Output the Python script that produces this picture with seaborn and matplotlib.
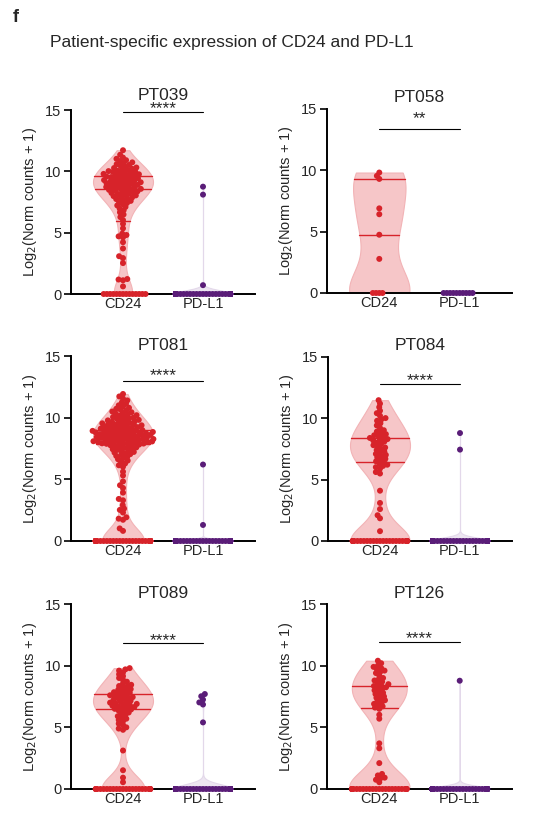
import warnings
import numpy as np
import pandas as pd
import matplotlib
matplotlib.use("Agg")
import matplotlib.pyplot as plt
import seaborn as sns

warnings.filterwarnings("ignore")

# ---------------- data ----------------
GENES = ["CD24", "PD-L1"]
PATIENTS = ["PT039", "PT058", "PT081", "PT084", "PT089", "PT126"]
SIGNIF = ["****", "**", "****", "****", "****", "****"]
BAR_Y = [14.84, 13.37, 13.0, 12.8, 11.8, 11.9]
STAR_Y = [15.16, 14.27, 13.46, 13.14, 12.08, 12.24]
YTICKS = [0, 5, 10, 15]

PT039_CD24 = [11.72, 11.35, 11.12, 11.02, 10.91, 10.84, 10.73, 10.66, 10.58, 10.52,
              10.44, 10.38, 10.31, 10.27, 10.21, 10.16, 10.11, 10.06, 10.02, 9.98,
              9.95, 9.91, 9.87, 9.83, 9.79, 9.76, 9.72, 9.68, 9.64, 9.61, 9.57, 9.53,
              9.50, 9.46, 9.43, 9.39, 9.36, 9.32, 9.29, 9.25, 9.22, 9.18, 9.15, 9.11,
              9.08, 9.04, 9.01, 8.97, 8.94, 8.90, 8.87, 8.83, 8.79, 8.76, 8.72, 8.68,
              8.64, 8.61, 8.57, 8.53, 8.49, 8.45, 8.41, 8.37, 8.33, 8.28, 8.24, 8.19,
              8.14, 8.09, 8.04, 7.98, 7.93, 7.87, 7.81, 7.74, 7.67, 7.59, 7.51, 7.42,
              7.33, 7.22, 7.10, 6.97, 6.83, 6.66, 6.48, 6.27, 6.03, 5.72, 5.35, 4.92,
              4.81, 4.70, 4.62, 4.22, 3.71, 3.08, 2.93, 2.52, 1.22, 1.18, 1.12, 0.62]
PT039_PDL1 = [8.75, 8.10, 0.72]

PT058_CD24 = [9.82, 9.55, 9.30, 6.90, 6.42, 4.75, 2.78]
PT058_PDL1 = []

PT081_CD24 = [5.62, 5.31, 4.83, 4.52, 4.30, 3.92, 3.41, 3.30, 2.91, 2.63, 2.52, 2.31,
              1.92, 1.81, 1.72, 1.02, 0.82,
              6.02, 6.14, 6.28, 6.41, 6.52, 6.63, 6.71, 6.82, 6.90, 6.98, 7.04, 7.11,
              7.17, 7.22, 7.28, 7.33, 7.39, 7.44, 7.49, 7.54, 7.59, 7.63, 7.67, 7.71,
              7.75, 7.79, 7.82, 7.85, 7.88,
              7.90, 7.92, 7.94, 7.96, 7.98, 8.00, 8.03, 8.05, 8.07, 8.09, 8.11, 8.14,
              8.16, 8.18, 8.20, 8.22, 8.25, 8.27, 8.29, 8.31, 8.33, 8.36, 8.38, 8.40,
              8.42, 8.44, 8.47, 8.49, 8.51, 8.53, 8.55, 8.58, 8.60, 8.62, 8.64, 8.66,
              8.69, 8.71, 8.73, 8.75, 8.77, 8.80, 8.82, 8.84, 8.86, 8.88, 8.91, 8.93,
              8.95, 8.97, 8.99,
              9.02, 9.05, 9.08, 9.11, 9.14, 9.17, 9.20, 9.23, 9.26, 9.29, 9.32, 9.35,
              9.38, 9.41, 9.44, 9.47, 9.50, 9.54, 9.58, 9.62, 9.66, 9.70, 9.74, 9.78,
              9.82, 9.86, 9.90, 9.95, 10.00, 10.05, 10.10, 10.15, 10.20, 10.26, 10.32,
              10.38, 10.44, 10.50, 10.57, 10.64, 10.72, 10.80, 10.90, 11.00, 11.12,
              11.25, 11.40, 11.55, 11.72, 11.92]
PT081_PDL1 = [6.20, 1.30]

PT084_CD24 = [5.50, 4.10, 3.10, 2.60, 2.10, 1.85, 0.80,
              5.62, 5.90, 6.02, 6.12, 6.22, 6.32, 6.42,
              6.50, 6.61, 6.70, 6.82, 6.91, 7.02, 7.10, 7.21, 7.30, 7.41, 7.50, 7.62,
              7.70, 7.81, 7.90, 8.02, 8.10, 8.20, 8.26, 8.31,
              8.40, 8.48, 8.55, 8.62, 8.71, 8.80, 8.92, 9.03, 9.21, 9.42, 9.60, 9.80,
              9.91, 10.02, 10.21, 10.42, 10.62, 10.91, 11.20, 11.48]
PT084_PDL1 = [8.80, 7.45]

PT089_CD24 = [3.12, 1.52, 0.92, 0.55,
              4.80, 4.90, 5.00, 5.20, 5.30, 5.50, 5.60, 5.70, 5.80, 5.90, 6.00, 6.10,
              6.20, 6.30, 6.35, 6.45,
              6.50, 6.55, 6.60, 6.65, 6.70, 6.75, 6.80, 6.85, 6.90, 6.95, 7.00, 7.05,
              7.10, 7.15, 7.20, 7.30, 7.35, 7.40, 7.45, 7.50, 7.55, 7.60,
              7.70, 7.75, 7.80, 7.85, 7.90, 8.00, 8.05, 8.10, 8.20, 8.30, 8.35, 8.45,
              8.55, 8.70, 8.85, 9.00, 9.15, 9.30, 9.45, 9.60, 9.70, 9.80]
PT089_PDL1 = [7.70, 7.52, 7.25, 7.02, 6.85, 5.40]

PT126_CD24 = [3.70, 3.30, 2.10, 1.22, 1.10, 0.92, 0.85, 0.75, 0.55,
              5.70, 6.02, 6.50,
              6.60, 6.70, 6.80, 6.90, 7.00, 7.10, 7.20, 7.30, 7.40, 7.50, 7.60, 7.70,
              7.80, 7.90, 8.00, 8.10, 8.20, 8.25,
              8.35, 8.40, 8.50, 8.60, 8.70, 8.80, 8.90, 9.00, 9.20, 9.40, 9.50, 9.60,
              9.70, 9.80, 9.90, 10.00, 10.20, 10.40]
PT126_PDL1 = [8.78]

# number of cells with zero counts per patient / gene
ZEROS_CD24 = [14, 4, 55, 26, 24, 24]
ZEROS_PDL1 = [120, 10, 150, 130, 130, 100]

NONZERO_CD24 = [PT039_CD24, PT058_CD24, PT081_CD24, PT084_CD24, PT089_CD24, PT126_CD24]
NONZERO_PDL1 = [PT039_PDL1, PT058_PDL1, PT081_PDL1, PT084_PDL1, PT089_PDL1, PT126_PDL1]

rows = []
for i, p in enumerate(PATIENTS):
    for v in NONZERO_CD24[i] + [0.0] * ZEROS_CD24[i]:
        rows.append((p, "CD24", v))
    for v in NONZERO_PDL1[i] + [0.0] * ZEROS_PDL1[i]:
        rows.append((p, "PD-L1", v))
df = pd.DataFrame(rows, columns=["patient", "gene", "value"])

# ---------------- style ----------------
sns.set_style("white")
plt.rcParams["font.family"] = ["Liberation Sans", "DejaVu Sans"]

POINT = {"CD24": "#d7232a", "PD-L1": "#5a1d78"}
FILL = {"CD24": "#f6c6c8", "PD-L1": "#ede6f1"}
EDGE = {"CD24": "#f2b3b6", "PD-L1": "#e3d8ea"}
TITLE_PAD = [7.5, 5.0, 4.5, 5.0, 4.5, 4.5]

W, H = 541, 818
fig = plt.figure(figsize=(W / 100, H / 100), dpi=100)

# axes boxes in pixels: left, top, right, bottom
BOXES = [(71, 110, 255, 294), (327, 109, 512, 293),
         (71, 356, 255, 541), (328, 357, 512, 541),
         (71, 604, 255, 789), (327, 604, 512, 789)]


def half_width(coll, center, yval):
    v = coll.get_paths()[0].vertices
    right = v[v[:, 0] >= center]
    order = np.argsort(right[:, 1])
    return np.interp(yval, right[order, 1], right[order, 0]) - center


swarm_colls = []
for i, p in enumerate(PATIENTS):
    l, t, r, b = BOXES[i]
    ax = fig.add_axes([l / W, 1 - b / H, (r - l) / W, (b - t) / H])
    d = df[df.patient == p]
    for gi, g in enumerate(GENES):
        sub = d[d.gene == g]
        if sub.value.nunique() < 2:
            continue
        n0 = len(ax.collections)
        sns.violinplot(data=sub, x="gene", y="value", order=GENES, color=FILL[g],
                       inner=None, cut=0, density_norm="width",
                       width=0.75, bw_adjust=0.7, linewidth=0.8, saturation=1, ax=ax)
        vc = ax.collections[n0]
        vc.set_edgecolor(EDGE[g])
        vc.set_zorder(1)
        q = np.percentile(sub.value.values, [25, 50, 75], method="weibull")
        for qv in q:
            if qv <= 0:
                continue
            hw = half_width(vc, gi, qv)
            ax.plot([gi - hw, gi + hw], [qv, qv], color=POINT[g], lw=1.0, zorder=4)
    n0 = len(ax.collections)
    sns.swarmplot(data=d, x="gene", y="value", hue="gene", order=GENES, hue_order=GENES,
                  palette=POINT, size=2.6, legend=False, linewidth=0,
                  zorder=3, clip_on=False, ax=ax)
    swarm_colls.extend(ax.collections[n0:])

    ax.set_xlim(-0.65, 1.65)
    ax.set_ylim(0, 15)
    ax.set_yticks(YTICKS)
    ax.set_xlabel("")
    ax.set_ylabel("Log$_2$(Norm counts + 1)", fontsize=10.5, labelpad=4)
    ax.set_title(p, fontsize=12.5, pad=TITLE_PAD[i])
    for s in ["top", "right"]:
        ax.spines[s].set_visible(False)
    for s in ["left", "bottom"]:
        ax.spines[s].set_linewidth(1.4)
        ax.spines[s].set_color("black")
    ax.tick_params(axis="y", length=5, width=1.2, pad=2, labelsize=10.5, left=True,
                   direction="out", color="black")
    ax.tick_params(axis="x", length=0, pad=2, labelsize=10.5)
    # significance bar
    ax.plot([0, 1], [BAR_Y[i], BAR_Y[i]], color="black", lw=0.8, clip_on=False)
    ax.annotate(SIGNIF[i], xy=(0.5, STAR_Y[i]), xytext=(0, -4), textcoords="offset points",
                ha="center", va="baseline", fontsize=12.5, annotation_clip=False)

fig.text(16 / W, 1 - 18 / H, "f", fontsize=13, fontweight="bold", ha="center", va="center")
fig.text(50 / W, 1 - 43 / H, "Patient-specific expression of CD24 and PD-L1",
         fontsize=12.5, ha="left", va="center")

# compute swarm layout once, then freeze; zero rows kept compact, clusters widened a bit
fig.canvas.draw()
for c in swarm_colls:
    if "draw" in c.__dict__:
        del c.draw
    off = c.get_offsets().copy()
    if len(off):
        center = np.round(np.median(off[:, 0]))
        factor = np.where(off[:, 1] == 0, 0.85, 1.2)
        off[:, 0] = center + np.clip((off[:, 0] - center) * factor, -0.38, 0.38)
        c.set_offsets(off)
    c.set_sizes([4.3 ** 2])

fig.savefig("out.png", dpi=100)
